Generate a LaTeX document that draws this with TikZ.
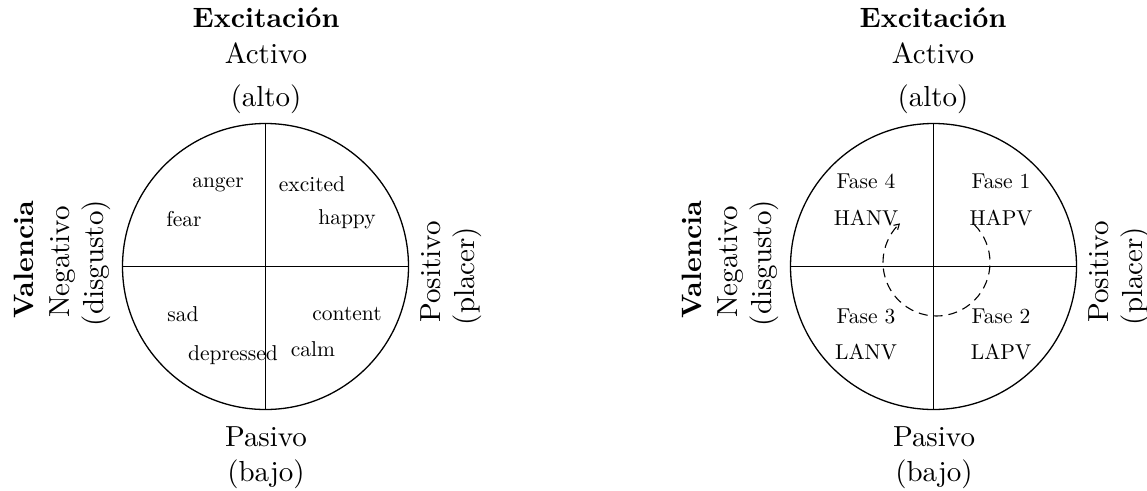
\documentclass[tikz,border=0pt]{standalone}
\usepackage{fontspec}
\setmainfont{lmroman10-regular}[Extension=.otf, BoldFont=lmroman10-bold]
\usetikzlibrary{arrows.meta}
\begin{document}
\begin{tikzpicture}[x=1pt,y=-1pt,
  outer/.style={font=\fontsize{29}{32}\selectfont, inner sep=0pt, anchor=base},
  outerb/.style={outer, font=\fontsize{28}{32}\selectfont\bfseries},
  inlab/.style={font=\fontsize{21.5}{24}\selectfont, inner sep=0pt, anchor=base},
  wheel/.style={line width=1.3pt},
  axis/.style={line width=1.3pt},
  cyc/.style={dash pattern=on 9pt off 6pt, line width=1.1pt, -{Straight Barb[length=5pt,width=6pt]}}]
\useasboundingbox (0,0) rectangle (1147,490);
\fill[white] (0,0) rectangle (1147,490);
% ---------- left diagram ----------
\node[wheel, draw, circle, minimum size=286pt, inner sep=0pt] (cL) at (265.5,266.5) {};
\draw[axis] (cL.north) -- (cL.south);
\draw[axis] (cL.west) -- (cL.east);
\node[outerb] (exL) at (266,27) {Excitación};
\node[outer] (acL) at (266,63) {Activo};
\node[outer] (alL) at (266,106) {(alto)};
\node[outer] (paL) at (266,446) {Pasivo};
\node[outer] (baL) at (266,481) {(bajo)};
\node[outerb, rotate=90] (vaL) at (33,260) {Valencia};
\node[outer, rotate=90] (neL) at (69,262) {Negativo};
\node[outer, rotate=90] (diL) at (103,263) {(disgusto)};
\node[outer, rotate=90] (poL) at (440,272) {Positivo};
\node[outer, rotate=90] (plL) at (474,276) {(placer)};
\node[inlab] (anger) at (218,187) {anger};
\node[inlab] (excited) at (312,191.5) {excited};
\node[inlab] (fear) at (184,226.5) {fear};
\node[inlab] (happy) at (347,224) {happy};
\node[inlab] (sad) at (183,321.5) {sad};
\node[inlab] (content) at (347,320.5) {content};
\node[inlab] (depressed) at (233,360) {depressed};
\node[inlab] (calm) at (313,356) {calm};
% ---------- right diagram ----------
\node[wheel, draw, circle, minimum size=286pt, inner sep=0pt] (cR) at (933.5,266.5) {};
\draw[axis] (cR.north) -- (cR.south);
\draw[axis] (cR.west) -- (cR.east);
\node[outerb] (exR) at (933,27) {Excitación};
\node[outer] (acR) at (933,63) {Activo};
\node[outer] (alR) at (933,106) {(alto)};
\node[outer] (paR) at (934,446) {Pasivo};
\node[outer] (baR) at (934,481) {(bajo)};
\node[outerb, rotate=90] (vaR) at (701,260) {Valencia};
\node[outer, rotate=90] (neR) at (737,262) {Negativo};
\node[outer, rotate=90] (diR) at (771,263) {(disgusto)};
\node[outer, rotate=90] (poR) at (1108,272) {Positivo};
\node[outer, rotate=90] (plR) at (1142,276) {(placer)};
\node[inlab] (f4) at (866,188) {Fase 4};
\node[inlab] (hanv) at (866,225) {HANV};
\node[inlab] (f1) at (1001,188) {Fase 1};
\node[inlab] (hapv) at (1001,225) {HAPV};
\node[inlab] (f3) at (866,323) {Fase 3};
\node[inlab] (lanv) at (866,359) {LANV};
\node[inlab] (f2) at (1001,323) {Fase 2};
\node[inlab] (lapv) at (1001,359) {LAPV};
\coordinate (cycc) at (936.5,262.5);
\draw[cyc] ([shift={(-45:53.5)}]cycc) arc[start angle=-45, end angle=227, radius=53.5];
\end{tikzpicture}
\end{document}
